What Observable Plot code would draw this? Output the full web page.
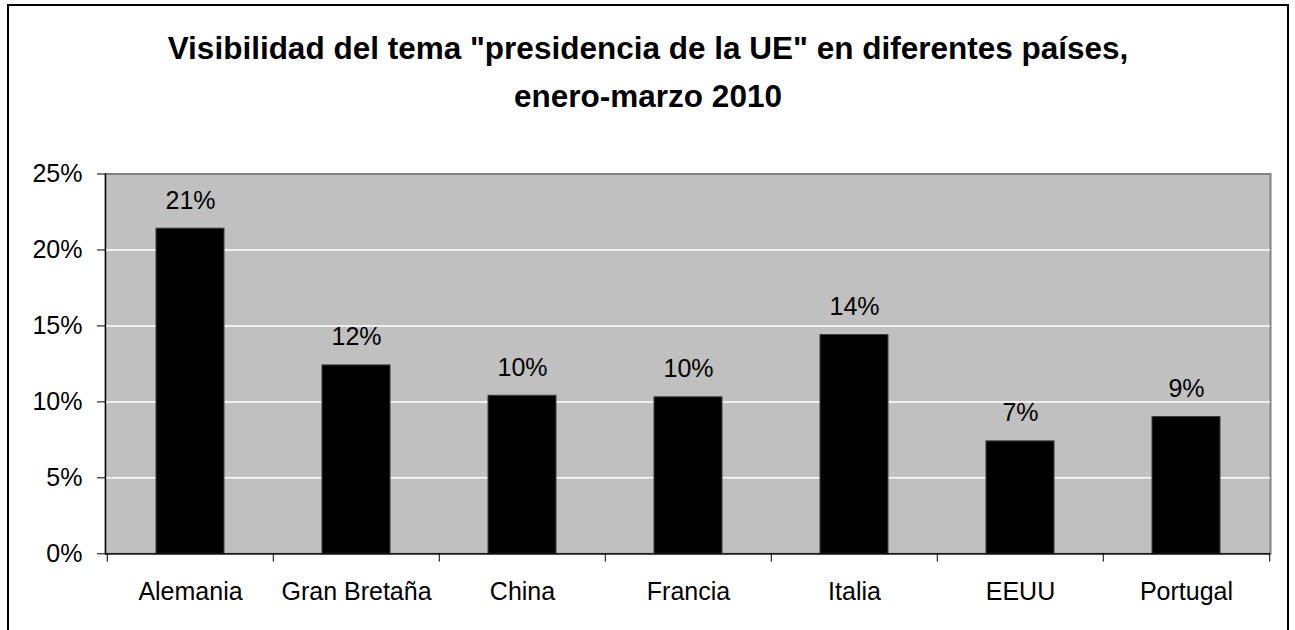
<!DOCTYPE html>
<html>
<head>
<meta charset="utf-8">
<script src="https://cdn.jsdelivr.net/npm/d3@7"></script>
<script src="https://cdn.jsdelivr.net/npm/@observablehq/plot@0.6"></script>
<style>
  body { margin: 0; background: #fff; font-family: "Liberation Sans", Arial, sans-serif; }
  #wrap { position: relative; width: 1295px; height: 630px; overflow: hidden; background: #fff; }
  #border { position: absolute; left: 7px; top: 4px; width: 1282px; height: 700px; border: 2px solid #000; box-sizing: border-box; }
  #title { position: absolute; left: 0; top: 0; width: 1295px; height: 150px; padding-top: 24px; box-sizing: border-box;
           text-align: center; font-weight: bold; font-size: 31.5px; line-height: 48px; color: #000; }
  #title div { width: 1295px; text-align: center; padding-left: 1px; box-sizing: border-box; }
  #chart { position: absolute; left: 0; top: 150px; }
</style>
</head>
<body>
<div id="wrap">
  <div id="border"></div>
  <div id="title">
    <div>Visibilidad del tema "presidencia de la UE" en diferentes países,</div>
    <div>enero-marzo 2010</div>
  </div>
  <div id="chart"></div>
</div>
<script>
const categories = ["Alemania", "Gran Bretaña", "China", "Francia", "Italia", "EEUU", "Portugal"];
const values = [21.4, 12.4, 10.4, 10.3, 14.4, 7.4, 9.0];
const yTicks = [0, 5, 10, 15, 20, 25];

const data = categories.map((c, i) => ({category: c, value: values[i]}));

const W = 1295, H = 480, ML = 105, MR = 25, MT = 23.5, MB = 76.7;
const step = (W - ML - MR) / categories.length;
const FS = 25;

const chart = Plot.plot({
  width: W,
  height: H,
  marginLeft: ML,
  marginRight: MR,
  marginTop: MT,
  marginBottom: MB,
  style: { fontFamily: "'Liberation Sans', Arial, sans-serif", fontSize: FS + "px", background: "transparent", color: "#000" },
  x: { type: "band", domain: categories, paddingInner: 0.593, paddingOuter: 0.2965, label: null },
  y: { domain: [0, 25], label: null },
  marks: [
    Plot.frame({ fill: "#C0C0C0", stroke: "#808080", strokeWidth: 2 }),
    Plot.ruleY(yTicks.filter(d => d > 0 && d < 25), { stroke: "#ffffff", strokeWidth: 1.5 }),
    Plot.barY(data, { x: "category", y: "value", fill: "#000", stroke: "#3a3a3a", strokeWidth: 1 }),
    Plot.text(data, { x: "category", y: "value", text: d => Math.round(d.value) + "%", dy: -28, fontSize: FS, fill: "#000" }),
    Plot.frame({ anchor: "left", stroke: "#000", strokeWidth: 1.2 }),
    Plot.ruleY([0], { stroke: "#000", strokeWidth: 1.2 }),
    Plot.ruleX(categories, { x: d => d, dx: -step / 2, y1: 0, y2: -0.55, stroke: "#000", strokeWidth: 1 }),
    Plot.ruleX([categories[categories.length - 1]], { x: d => d, dx: step / 2, y1: 0, y2: -0.55, stroke: "#000", strokeWidth: 1 }),
    Plot.axisY({ ticks: yTicks, tickFormat: d => d + "%", tickSize: 8, tickPadding: 15, fontSize: FS, stroke: "#000" }),
    Plot.axisX({ tickSize: 0, tickPadding: 28, fontSize: FS })
  ]
});
document.getElementById("chart").appendChild(chart);
</script>
</body>
</html>
